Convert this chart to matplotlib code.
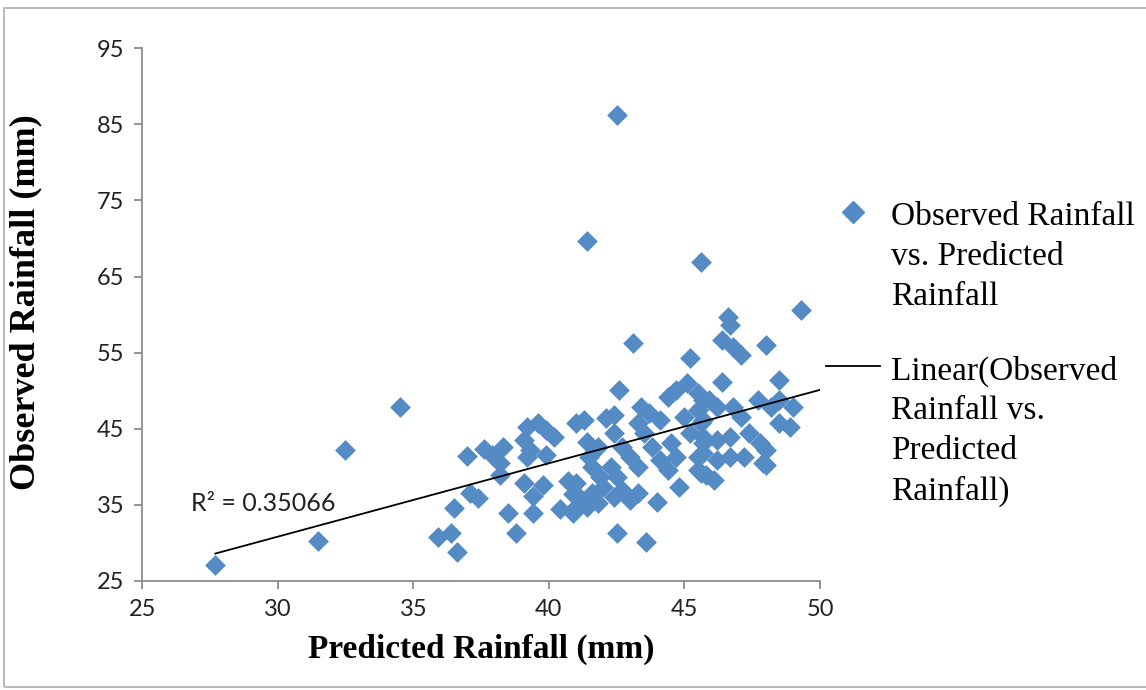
import numpy as np
import matplotlib.pyplot as plt
from matplotlib.lines import Line2D
from matplotlib.patches import Rectangle

# predicted (x) and observed (y) rainfall, mm
pred = [27.7, 31.5, 32.5, 34.5, 35.9, 36.4, 36.6, 36.5, 37.1, 37.4,
        37.0, 37.6, 37.9, 38.3, 38.2, 38.2, 38.5, 38.8, 39.2, 39.6,
        39.9, 40.2, 39.1, 39.3, 39.2, 39.9, 39.1, 39.8, 39.4, 39.4,
        40.4, 40.7, 40.9, 41.0, 41.0, 42.5, 41.4, 45.6, 43.1, 46.6,
        46.7, 49.3, 48.0, 45.2, 46.4, 46.8, 47.1, 42.6, 41.3, 42.1,
        42.4, 43.4, 43.7, 44.1, 44.4, 44.7, 45.1, 45.5, 45.7, 45.0,
        45.6, 41.4, 41.8, 41.5, 42.4, 42.7, 43.3, 43.5, 43.8, 44.1,
        44.4, 43.0, 43.3, 42.3, 42.5, 42.0, 42.4, 42.7, 43.0, 43.3,
        41.0, 41.1, 41.4, 41.8, 40.9, 44.0, 44.8, 42.5, 43.6, 45.5,
        45.7, 45.6, 44.7, 44.5, 41.6, 41.9, 41.6, 46.4, 48.5, 45.9,
        46.2, 47.7, 48.2, 48.5, 49.0, 45.5, 45.7, 46.8, 47.1, 48.5,
        48.9, 45.2, 45.7, 46.2, 46.7, 47.4, 47.8, 48.0, 45.7, 46.2,
        46.7, 47.2, 47.9, 45.5, 45.8, 46.1, 48.0]
obs = [27.1, 30.3, 42.2, 47.9, 30.8, 31.3, 28.8, 34.6, 36.6, 35.9,
       41.4, 42.4, 41.5, 42.6, 40.5, 38.9, 33.9, 31.3, 45.2, 45.8,
       44.8, 43.9, 43.5, 42.2, 41.3, 41.5, 37.9, 37.6, 36.2, 33.9,
       34.5, 38.1, 36.4, 34.7, 45.8, 86.2, 69.7, 66.9, 56.3, 59.7,
       58.6, 60.6, 56.0, 54.3, 56.7, 55.7, 54.7, 50.1, 46.2, 46.4,
       46.8, 47.9, 47.1, 46.2, 49.2, 50.1, 51.0, 49.7, 48.8, 46.6,
       45.8, 43.3, 42.6, 41.3, 44.4, 42.6, 45.8, 44.4, 42.6, 40.9,
       39.6, 41.3, 40.0, 40.0, 38.7, 37.4, 36.0, 37.0, 35.6, 36.6,
       37.9, 36.0, 34.7, 35.2, 33.9, 35.4, 37.4, 31.3, 30.1, 41.3,
       43.1, 39.2, 41.3, 43.1, 40.0, 38.7, 36.6, 51.1, 51.4, 48.8,
       47.9, 48.8, 47.9, 48.8, 47.9, 47.5, 46.2, 47.9, 46.6, 45.8,
       45.2, 44.4, 43.9, 43.5, 43.9, 44.4, 43.1, 42.2, 41.8, 40.9,
       41.3, 41.3, 40.5, 39.6, 38.9, 38.3, 40.2]

xticks = [25, 30, 35, 40, 45, 50]
yticks = [25, 35, 45, 55, 65, 75, 85, 95]
r2_text = "R² = 0.35066"
series_label = "Observed Rainfall\nvs. Predicted\nRainfall"
trend_label = "Linear(Observed\nRainfall vs.\nPredicted\nRainfall)"

blue = '#558BC5'
grey = '#8C8C8C'
sans = ['Lato', 'DejaVu Sans']

fig = plt.figure(figsize=(11.46, 6.9), dpi=100)
ax = fig.add_axes([0.124, 0.158, 0.5915, 0.772])

ax.scatter(pred, obs, marker='D', s=112, color=blue, linewidths=0, zorder=2)

# least squares trend line
px = np.array(pred)
py = np.array(obs)
k, b = np.polyfit(px, py, 1)
tx = np.array([px.min(), 50])
ax.plot(tx, k * tx + b, color='black', lw=1.3, zorder=3)

ax.text(26.8, 35.2, r2_text, fontsize=18, family=sans,
        va='center', ha='left', color='#222222')

ax.set_xlim(25, 50)
ax.set_ylim(25, 95)
ax.set_xticks(xticks)
ax.set_yticks(yticks)
for s in ['top', 'right']:
    ax.spines[s].set_visible(False)
for s in ['left', 'bottom']:
    ax.spines[s].set_color(grey)
    ax.spines[s].set_linewidth(1.3)
ax.tick_params(direction='out', length=6, width=1.3, color=grey,
               labelsize=17, labelcolor='#222222', pad=7)
for t in ax.get_xticklabels() + ax.get_yticklabels():
    t.set_family(sans)

ax.set_xlabel("Predicted Rainfall (mm)", family='Liberation Serif',
              fontweight='bold', fontsize=24, labelpad=10)
ax.set_ylabel("Observed Rainfall (mm)", family='Liberation Serif',
              fontweight='bold', fontsize=26)
ax.yaxis.set_label_coords(-0.147, 0.523)

# legend drawn by hand so the keys sit on the first line of each label
fig.add_artist(Line2D([0.7443], [0.6928], marker='D', markersize=11,
                      color=blue, lw=0, transform=fig.transFigure))
fig.text(0.7775, 0.708, series_label, family='Liberation Serif',
         fontsize=24, va='top', ha='left', linespacing=1.4)
fig.add_artist(Line2D([0.7208, 0.7679], [0.4696, 0.4696], color='black',
                      lw=1.3, transform=fig.transFigure))
fig.text(0.7775, 0.485, trend_label, family='Liberation Serif',
         fontsize=24, va='top', ha='left', linespacing=1.4)

# chart area border
fig.add_artist(Rectangle((0.0035, 0.004), 1.2, 1 - 0.004 - 8 / 690,
                         fill=False, edgecolor='#BBBBBB', lw=1.5,
                         transform=fig.transFigure))

fig.savefig('out.png', dpi=100)
